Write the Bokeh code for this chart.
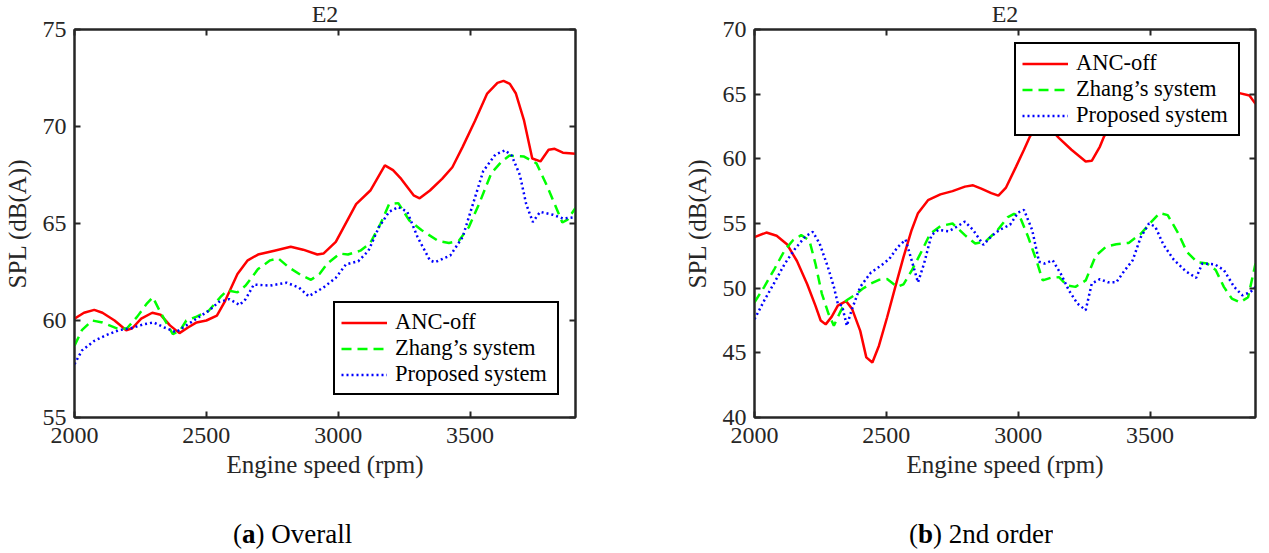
from bokeh.plotting import figure
from bokeh.models import (Range1d, LinearAxis, Legend, LegendItem, Div, FixedTicker,
                          CustomLabelingPolicy)
from bokeh.layouts import row, column
from bokeh.embed import file_html
from bokeh.resources import INLINE

FONT = "Liberation Serif"
AX = "#262626"

# ---------------- data: (a) Overall ----------------
a_off_rpm = [2000, 2036, 2075, 2106, 2152, 2196, 2219, 2253, 2295, 2326, 2362, 2398, 2432, 2463,
             2500, 2540, 2571, 2618, 2657, 2696, 2758, 2820, 2867, 2921, 2944, 2991, 3068, 3122,
             3177, 3208, 3239, 3286, 3309, 3348, 3394, 3433, 3472, 3519, 3565, 3604, 3627, 3651,
             3674, 3705, 3736, 3767, 3798, 3821, 3852, 3900]
a_off_spl = [60.1, 60.4, 60.55, 60.4, 60.0, 59.5, 59.6, 60.1, 60.4, 60.3, 59.75, 59.35, 59.65, 59.9,
             60.0, 60.25, 61.0, 62.4, 63.1, 63.4, 63.6, 63.8, 63.65, 63.4, 63.45, 64.05, 66.0, 66.7,
             68.0, 67.75, 67.3, 66.45, 66.3, 66.7, 67.3, 67.9, 68.95, 70.3, 71.7, 72.25, 72.35, 72.2,
             71.7, 70.3, 68.35, 68.2, 68.8, 68.85, 68.65, 68.6]

a_zh_rpm = [2000, 2028, 2067, 2106, 2168, 2199, 2238, 2276, 2297, 2323, 2354, 2373, 2401, 2424,
            2463, 2509, 2553, 2579, 2618, 2649, 2696, 2742, 2773, 2812, 2858, 2897, 2929, 2960,
            3006, 3037, 3084, 3122, 3161, 3193, 3228, 3270, 3317, 3379, 3420, 3457, 3495, 3534,
            3581, 3620, 3650, 3705, 3752, 3790, 3821, 3850, 3870, 3900]
a_zh_spl = [58.7, 59.5, 60.0, 59.9, 59.55, 59.6, 60.2, 60.9, 61.2, 60.5, 59.75, 59.3, 59.5, 60.0,
            60.2, 60.5, 61.2, 61.55, 61.45, 61.8, 62.65, 63.1, 63.2, 62.75, 62.35, 62.1, 62.4, 62.95,
            63.45, 63.4, 63.6, 64.0, 65.0, 66.0, 66.05, 65.15, 64.65, 64.1, 64.0, 64.1, 64.8, 66.0,
            67.6, 68.2, 68.5, 68.45, 68.1, 67.0, 66.0, 65.05, 65.2, 65.8]

a_pr_rpm = [2000, 2028, 2075, 2121, 2168, 2214, 2261, 2300, 2339, 2385, 2424, 2463, 2509, 2547,
            2587, 2626, 2649, 2680, 2742, 2804, 2851, 2888, 2944, 2991, 3030, 3076, 3115, 3154,
            3193, 3228, 3262, 3301, 3348, 3367, 3425, 3472, 3511, 3550, 3596, 3633, 3658, 3689,
            3713, 3738, 3766, 3814, 3854, 3900]
a_pr_spl = [57.75, 58.45, 58.95, 59.25, 59.5, 59.6, 59.8, 59.9, 59.65, 59.4, 59.75, 60.1, 60.5, 60.95,
            61.1, 60.8, 61.1, 61.85, 61.8, 61.95, 61.7, 61.25, 61.7, 62.2, 62.9, 63.05, 63.6, 64.8,
            65.6, 65.85, 65.6, 64.3, 63.1, 63.0, 63.35, 64.3, 66.0, 67.7, 68.55, 68.77, 68.5, 67.5,
            66.0, 65.08, 65.6, 65.45, 65.25, 65.33]

# ---------------- data: (b) 2nd order ----------------
b_off_rpm = [2000, 2045, 2084, 2123, 2161, 2200, 2231, 2251, 2270, 2293, 2316, 2347, 2370, 2401,
             2424, 2447, 2472, 2503, 2534, 2565, 2596, 2620, 2658, 2705, 2751, 2798, 2829, 2860,
             2898, 2925, 2953, 2992, 3022, 3045, 3100, 3155, 3202, 3256, 3279, 3310, 3326, 3400,
             3500, 3600, 3700, 3800, 3835, 3877, 3900]
b_off_spl = [53.95, 54.3, 54.05, 53.4, 52.1, 50.3, 48.65, 47.5, 47.2, 47.8, 48.65, 49.0, 48.4, 46.7,
             44.65, 44.25, 45.55, 47.75, 50.1, 52.4, 54.5, 55.8, 56.8, 57.25, 57.5, 57.85, 57.95, 57.7,
             57.35, 57.15, 57.75, 59.4, 60.7, 61.75, 62.8, 61.6, 60.7, 59.8, 59.85, 60.95, 61.75, 63.5,
             64.5, 66.0, 65.5, 65.3, 65.1, 64.9, 64.25]

b_zh_rpm = [2000, 2037, 2076, 2115, 2146, 2177, 2208, 2231, 2255, 2281, 2301, 2325, 2348, 2379,
            2410, 2441, 2472, 2503, 2542, 2565, 2596, 2635, 2666, 2705, 2751, 2798, 2837, 2876,
            2922, 2961, 2984, 3007, 3038, 3069, 3093, 3124, 3155, 3186, 3217, 3256, 3294, 3333,
            3372, 3419, 3465, 3504, 3536, 3567, 3608, 3640, 3679, 3717, 3749, 3780, 3810, 3841,
            3872, 3900]
b_zh_spl = [48.9, 50.1, 51.5, 52.95, 53.7, 54.1, 53.7, 51.9, 49.6, 48.0, 47.1, 48.15, 49.05, 49.45,
            49.95, 50.35, 50.65, 50.7, 50.1, 50.3, 51.35, 52.9, 54.2, 54.8, 55.0, 54.1, 53.45, 53.6,
            54.5, 55.5, 55.75, 55.5, 53.95, 52.15, 50.6, 50.8, 50.85, 50.2, 50.1, 50.6, 52.5, 53.2,
            53.4, 53.5, 54.2, 55.1, 55.8, 55.65, 54.2, 52.8, 52.0, 51.9, 51.4, 50.1, 49.2, 48.9,
            49.3, 51.9]

b_pr_rpm = [2000, 2037, 2076, 2115, 2154, 2193, 2221, 2247, 2278, 2301, 2316, 2332, 2350, 2370,
            2401, 2441, 2480, 2511, 2542, 2573, 2596, 2620, 2643, 2671, 2697, 2736, 2767, 2798,
            2829, 2868, 2898, 2929, 2969, 3000, 3022, 3053, 3079, 3100, 3131, 3162, 3193, 3225,
            3256, 3279, 3310, 3341, 3372, 3403, 3434, 3465, 3496, 3520, 3551, 3590, 3636, 3675,
            3698, 3745, 3780, 3819, 3850, 3881, 3900]
b_pr_spl = [47.6, 49.05, 50.45, 51.9, 53.05, 54.0, 54.35, 53.45, 51.65, 50.1, 48.8, 48.65, 47.1, 48.4,
            50.1, 51.2, 51.75, 52.25, 53.15, 53.75, 52.15, 50.45, 51.9, 54.1, 54.5, 54.4, 54.75, 55.15,
            54.5, 53.35, 54.0, 54.5, 54.9, 55.85, 56.05, 54.5, 52.05, 51.9, 52.15, 51.1, 49.8, 48.8,
            48.3, 50.35, 50.7, 50.45, 50.45, 51.35, 52.15, 53.95, 55.0, 54.75, 53.35, 52.2, 51.3, 50.8,
            51.9, 51.85, 51.4, 50.1, 49.45, 49.7, 50.1]

x_ticks = [2000, 2500, 3000, 3500]
a_y_ticks = [55, 60, 65, 70, 75]
b_y_ticks = [40, 45, 50, 55, 60, 65, 70]
series_labels = ["ANC-off", "Zhang\u2019s system", "Proposed system"]
title_text = "E2"
x_label = "Engine speed (rpm)"
y_label = "SPL (dB(A))"


def style_axis(ax, ticks, show_labels=True):
    ax.ticker = FixedTicker(ticks=ticks)
    ax.axis_line_color = AX
    ax.axis_line_width = 2
    ax.major_tick_line_color = AX
    ax.major_tick_line_width = 2
    ax.major_tick_in = 6
    ax.major_tick_out = 0
    ax.minor_tick_line_color = None
    ax.major_label_text_font = FONT
    ax.major_label_text_color = AX
    if show_labels:
        ax.major_label_text_font_size = "24px"
        ax.major_label_standoff = 8
    else:
        ax.major_label_text_font_size = "1px"
        ax.major_label_standoff = 0
        ax.major_label_policy = CustomLabelingPolicy(code="return new Set()")
    ax.axis_label_text_font = FONT
    ax.axis_label_text_font_size = "25px"
    ax.axis_label_text_font_style = "normal"
    ax.axis_label_text_color = AX


def panel(data, yr, yticks, leg_loc, bl, br):
    p = figure(frame_width=501, frame_height=388, output_backend="svg", toolbar_location=None,
               x_range=Range1d(2000, 3900), y_range=Range1d(*yr),
               min_border_left=bl, min_border_right=br, min_border_top=24, min_border_bottom=70)
    p.title.text = title_text
    p.title.align = "center"
    p.title.text_font = FONT
    p.title.text_font_size = "24px"
    p.title.text_font_style = "normal"
    p.title.text_color = AX
    p.title.standoff = -3
    p.xgrid.grid_line_color = None
    p.ygrid.grid_line_color = None
    p.outline_line_color = AX
    p.outline_line_width = 2
    p.outline_line_alpha = 1.0
    p.background_fill_color = "white"
    p.border_fill_color = "white"

    style_axis(p.xaxis[0], x_ticks)
    p.xaxis[0].axis_label = x_label
    p.xaxis[0].major_label_standoff = 10
    p.xaxis[0].axis_label_standoff = 5
    style_axis(p.yaxis[0], yticks)
    p.yaxis[0].axis_label = y_label
    p.yaxis[0].axis_label_standoff = 9

    top = LinearAxis()
    style_axis(top, x_ticks, show_labels=False)
    p.add_layout(top, "above")
    right = LinearAxis()
    style_axis(right, yticks, show_labels=False)
    p.add_layout(right, "right")

    (xo, yo), (xz, yz), (xp, yp) = data
    r1 = p.line(xo, yo, line_color="#ff0000", line_width=2.5)
    r2 = p.line(xz, yz, line_color="#00ff00", line_width=2.5, line_dash="10 6")
    r3 = p.line(xp, yp, line_color="#0000ff", line_width=2.5, line_dash="2 3")

    leg = Legend(items=[LegendItem(label=series_labels[0], renderers=[r1]),
                        LegendItem(label=series_labels[1], renderers=[r2]),
                        LegendItem(label=series_labels[2], renderers=[r3])],
                 location=leg_loc)
    leg.label_text_font = FONT
    leg.label_text_font_size = "22.5px"
    leg.label_text_color = "#000000"
    leg.glyph_width = 46
    leg.glyph_height = 25
    leg.label_height = 25
    leg.label_width = 156
    leg.label_standoff = 8
    leg.spacing = 0
    leg.padding = 6
    leg.margin = 0
    leg.border_line_color = "#000000"
    leg.border_line_width = 2
    leg.border_line_alpha = 1.0
    leg.background_fill_color = "white"
    leg.background_fill_alpha = 1.0
    p.add_layout(leg)
    return p


p1 = panel([(a_off_rpm, a_off_spl), (a_zh_rpm, a_zh_spl), (a_pr_rpm, a_pr_spl)],
           (55, 75), a_y_ticks, (259, 22), 70, 50)
p2 = panel([(b_off_rpm, b_off_spl), (b_zh_rpm, b_zh_spl), (b_pr_rpm, b_pr_spl)],
           (40, 70), b_y_ticks, (260, 281), 129, 1)

cap_style = ("font-family:'Liberation Serif';font-size:27px;line-height:30px;color:#000;"
             "white-space:nowrap;overflow:hidden;")
d1 = Div(text=f"<div style=\"{cap_style}padding-left:228px;padding-top:27px;\">(<b>a</b>) Overall</div>",
         width=621, height=53)
d2 = Div(text=f"<div style=\"{cap_style}padding-left:273px;padding-top:27px;\">(<b>b</b>) 2nd order</div>",
         width=620, height=53)

layout = column(row(p1, p2), row(d1, d2))
open("out.html", "w").write(file_html(layout, INLINE))
